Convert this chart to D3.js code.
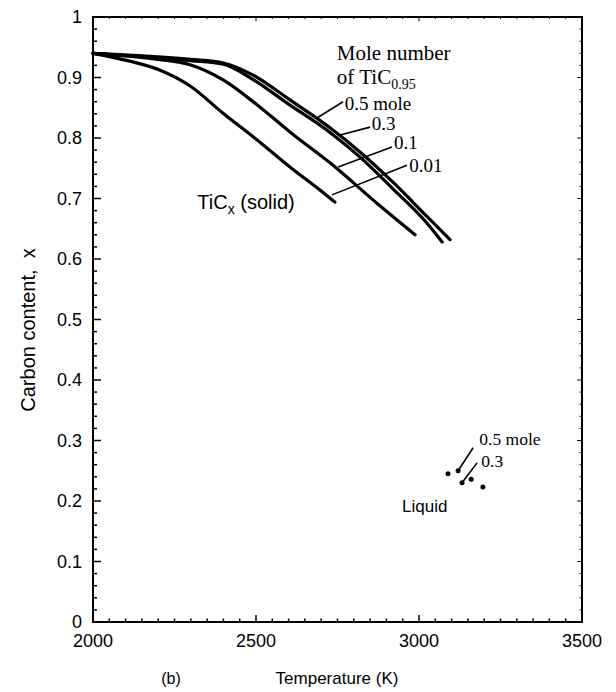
<!DOCTYPE html>
<html>
<head>
<meta charset="utf-8">
<script src="https://cdn.jsdelivr.net/npm/d3@7"></script>
<style>
  body { margin: 0; background: #fff; }
  svg { display: block; }
  .sans { font-family: "Liberation Sans", Arial, Helvetica, sans-serif; }
  .serif { font-family: "Liberation Serif", "Times New Roman", serif; }
</style>
</head>
<body>
<svg id="chart" width="616" height="692"></svg>
<script>
// solid-phase carbon content vs temperature, one curve per mole number of TiC0.95
const curve001 = [[2000, 0.940], [2113, 0.927], [2206, 0.912], [2298, 0.886], [2399, 0.841],
  [2512, 0.793], [2604, 0.752], [2696, 0.714], [2742, 0.694]];
const curve01 = [[2000, 0.940], [2200, 0.930], [2298, 0.921], [2399, 0.896], [2503, 0.855],
  [2604, 0.810], [2727, 0.759], [2880, 0.688], [2988, 0.640]];
const curve03 = [[2000, 0.940], [2300, 0.928], [2400, 0.922], [2490, 0.897], [2600, 0.856],
  [2730, 0.808], [2820, 0.768], [2920, 0.716], [3020, 0.662], [3071, 0.628]];
const curve05 = [[2000, 0.940], [2300, 0.930], [2400, 0.924], [2491, 0.904], [2604, 0.863],
  [2727, 0.817], [2819, 0.777], [2920, 0.727], [3025, 0.670], [3095, 0.632]];

// liquid-phase points
const liquid05 = [[3089, 0.245], [3120, 0.250]];
const liquid03 = [[3132, 0.230], [3160, 0.236], [3196, 0.223]];

const xTicks = [2000, 2500, 3000, 3500];
const yTicks = [0, 0.1, 0.2, 0.3, 0.4, 0.5, 0.6, 0.7, 0.8, 0.9, 1];
const moleLabels = ['0.5 mole', '0.3', '0.1', '0.01'];
const liquidLabels = ['0.5 mole', '0.3'];

const svg = d3.select('#chart');
const plotLeft = 93, plotRight = 582, plotTop = 17, plotBottom = 622;

const x = d3.scaleLinear().domain([2000, 3500]).range([plotLeft, plotRight]);
const y = d3.scaleLinear().domain([0, 1]).range([plotBottom, plotTop]);

// frame
svg.append('rect')
  .attr('x', plotLeft).attr('y', plotTop)
  .attr('width', plotRight - plotLeft).attr('height', plotBottom - plotTop)
  .attr('fill', 'none').attr('stroke', '#000').attr('stroke-width', 2);

// inward ticks on all four sides
const tickG = svg.append('g').attr('stroke', '#000');
const xMinor = d3.range(2000, 3501, 50);
const yMinor = d3.range(0, 51).map(i => i * 0.02);
xMinor.forEach(t => {
  const len = t % 500 === 0 ? 7 : 3.5;
  tickG.append('line').attr('x1', x(t)).attr('x2', x(t)).attr('y1', plotBottom).attr('y2', plotBottom - len).attr('stroke-width', 1.5);
  tickG.append('line').attr('x1', x(t)).attr('x2', x(t)).attr('y1', plotTop).attr('y2', plotTop + len * 0.6).attr('stroke-width', 1);
});
yMinor.forEach(v => {
  const major = Math.abs(v * 10 - Math.round(v * 10)) < 1e-6;
  const len = major ? 8 : 4;
  tickG.append('line').attr('x1', plotLeft).attr('x2', plotLeft + len).attr('y1', y(v)).attr('y2', y(v)).attr('stroke-width', 1.5);
  tickG.append('line').attr('x1', plotRight).attr('x2', plotRight - len * 0.6).attr('y1', y(v)).attr('y2', y(v)).attr('stroke-width', 1);
});

// tick labels
svg.append('g').attr('class', 'sans').selectAll('text')
  .data(yTicks).enter().append('text')
  .attr('x', plotLeft - 11).attr('y', d => y(d)).attr('dy', '0.35em')
  .attr('text-anchor', 'end').attr('font-size', 18)
  .text(d => d3.format('~g')(d));

svg.append('g').attr('class', 'sans').selectAll('text')
  .data(xTicks).enter().append('text')
  .attr('x', d => x(d)).attr('y', 647)
  .attr('text-anchor', 'middle').attr('font-size', 18)
  .text(d => d);

// axis titles
svg.append('text').attr('class', 'sans')
  .attr('transform', 'translate(35,330) rotate(-90)')
  .attr('text-anchor', 'middle').attr('font-size', 20)
  .attr('xml:space', 'preserve')
  .text('Carbon content,  x');

svg.append('text').attr('class', 'sans')
  .attr('x', 337).attr('y', 684).attr('text-anchor', 'middle').attr('font-size', 17)
  .text('Temperature (K)');

svg.append('text').attr('class', 'sans')
  .attr('x', 171).attr('y', 684).attr('text-anchor', 'middle').attr('font-size', 16)
  .text('(b)');

// curves
const line = d3.line().x(d => x(d[0])).y(d => y(d[1])).curve(d3.curveMonotoneX);
svg.append('g').selectAll('path')
  .data([curve001, curve01, curve03, curve05]).enter().append('path')
  .attr('d', line)
  .attr('fill', 'none').attr('stroke', '#000').attr('stroke-width', 3.2)
  .attr('stroke-linecap', 'round').attr('stroke-linejoin', 'round');

// liquid points
svg.append('g').selectAll('circle')
  .data(liquid05.concat(liquid03)).enter().append('circle')
  .attr('cx', d => x(d[0])).attr('cy', d => y(d[1])).attr('r', 2.5)
  .attr('fill', '#000');

// annotations: leader start (on curve), leader end, label anchor, in data units
const solidLeaders = [
  { from: [2687, 0.833], to: [2767, 0.860], at: [2772, 0.847] },
  { from: [2758, 0.805], to: [2850, 0.818], at: [2855, 0.813] },
  { from: [2752, 0.752], to: [2917, 0.785], at: [2923, 0.781] },
  { from: [2733, 0.706], to: [2963, 0.755], at: [2970, 0.744] }
];
const liquidLeaders = [
  { from: [3120, 0.250], to: [3166, 0.288], at: [3185, 0.293] },
  { from: [3132, 0.230], to: [3178, 0.263], at: [3191, 0.257] }
];

const annG = svg.append('g');
function drawLeaders(list, labels, size) {
  list.forEach((a, i) => {
    annG.append('line')
      .attr('x1', x(a.from[0])).attr('y1', y(a.from[1]))
      .attr('x2', x(a.to[0])).attr('y2', y(a.to[1]))
      .attr('stroke', '#000').attr('stroke-width', 1.6);
    annG.append('text').attr('class', 'serif')
      .attr('x', x(a.at[0])).attr('y', y(a.at[1])).attr('font-size', size)
      .text(labels[i]);
  });
}
drawLeaders(solidLeaders, moleLabels, 19);
drawLeaders(liquidLeaders, liquidLabels, 17.5);

// header of the mole number labels
svg.append('text').attr('class', 'serif').attr('font-size', 21)
  .attr('x', x(2748)).attr('y', y(0.929))
  .text('Mole number');
const of = svg.append('text').attr('class', 'serif').attr('font-size', 21)
  .attr('x', x(2748)).attr('y', y(0.890));
of.append('tspan').text('of TiC');
of.append('tspan').attr('font-size', 14).attr('dy', 5).text('0.95');

// region labels
const solid = svg.append('text').attr('class', 'sans').attr('font-size', 20)
  .attr('x', x(2320)).attr('y', y(0.682));
solid.append('tspan').text('TiC');
solid.append('tspan').attr('font-size', 14).attr('dy', 5).text('x');
solid.append('tspan').attr('dy', -5).text(' (solid)');

svg.append('text').attr('class', 'sans').attr('font-size', 17)
  .attr('x', x(3087)).attr('y', y(0.182)).attr('text-anchor', 'end')
  .text('Liquid');
</script>
</body>
</html>
